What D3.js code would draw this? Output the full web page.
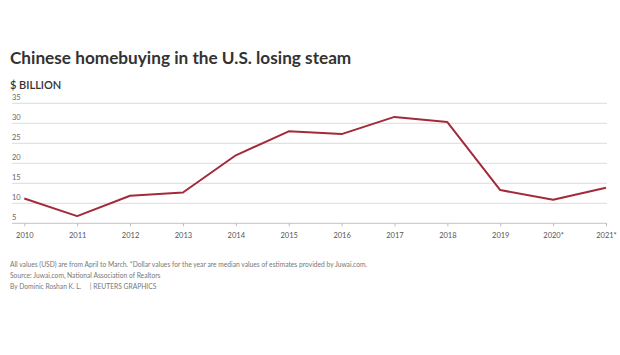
<!DOCTYPE html>
<html><head><meta charset="utf-8">
<script src="https://cdn.jsdelivr.net/npm/d3@7"></script>
<style>body{margin:0;background:#fff;} text{font-family:"Source Sans Pro","Lato","Open Sans",sans-serif;}</style>
</head><body>
<svg id="c" width="620" height="355"></svg>
<script>
const years = ["2010","2011","2012","2013","2014","2015","2016","2017","2018","2019","2020*","2021*"];
const values = [11.2, 6.8, 11.9, 12.7, 22.0, 28.0, 27.3, 31.6, 30.3, 13.3, 10.9, 13.9];
const yTicks = [5, 10, 15, 20, 25, 30, 35];
const title = "Chinese homebuying in the U.S. losing steam";
const subtitle = "$ BILLION";
const notes = [
  "All values (USD) are from April to March. *Dollar values for the year are median values of estimates provided by Juwai.com.",
  "Source: Juwai.com, National Association of Realtors",
  "By Dominic Roshan K. L.     | REUTERS GRAPHICS"
];

const svg = d3.select("#c");
svg.append("rect").attr("width",620).attr("height",355).attr("fill","#fff");

svg.append("text").attr("x",10).attr("y",64).text(title)
  .attr("font-size",17.2).attr("font-weight",700).attr("fill","#333");
svg.append("text").attr("x",10).attr("y",89).text(subtitle)
  .attr("font-size",11).attr("font-weight",600).attr("fill","#333");

const x = d3.scalePoint().domain(years).range([24.3, 606]);
const y = d3.scaleLinear().domain([5, 35]).range([223.3, 103.3]);
const gL = 12, gR = 607;

const grid = svg.append("g");
grid.selectAll("line").data(yTicks).join("line")
  .attr("x1", gL).attr("x2", gR)
  .attr("y1", d => y(d)).attr("y2", d => y(d))
  .attr("stroke", d => d === 5 ? "#cfcfcf" : "#e2e2e2").attr("stroke-width", 1.2);
grid.selectAll("text").data(yTicks).join("text")
  .attr("x", gL).attr("y", d => y(d) - 3.5)
  .text(d => d).attr("font-size", 7.5).attr("fill", "#666");

const xa = svg.append("g").attr("transform", `translate(0,${y(5)})`)
  .call(d3.axisBottom(x).tickSize(3).tickPadding(6.5));
xa.select(".domain").remove();
xa.selectAll(".tick line").attr("stroke", "#bbb");
xa.selectAll(".tick text").attr("font-size", 7.5).attr("fill", "#555")
  .style("font-family", '"Source Sans Pro","Lato","Open Sans",sans-serif');

const line = d3.line().x((d,i) => x(years[i])).y(d => y(d));
svg.append("path").datum(values).attr("d", line)
  .attr("fill","none").attr("stroke","#a32a3a").attr("stroke-width",2)
  .attr("stroke-linejoin","round");

svg.selectAll(".note").data(notes).join("text").attr("class","note")
  .attr("x",10).attr("y",(d,i) => 267 + i*11).text(d => d)
  .style("white-space","pre")
  .attr("font-size",6.7).attr("fill","#777");
</script>
</body></html>
